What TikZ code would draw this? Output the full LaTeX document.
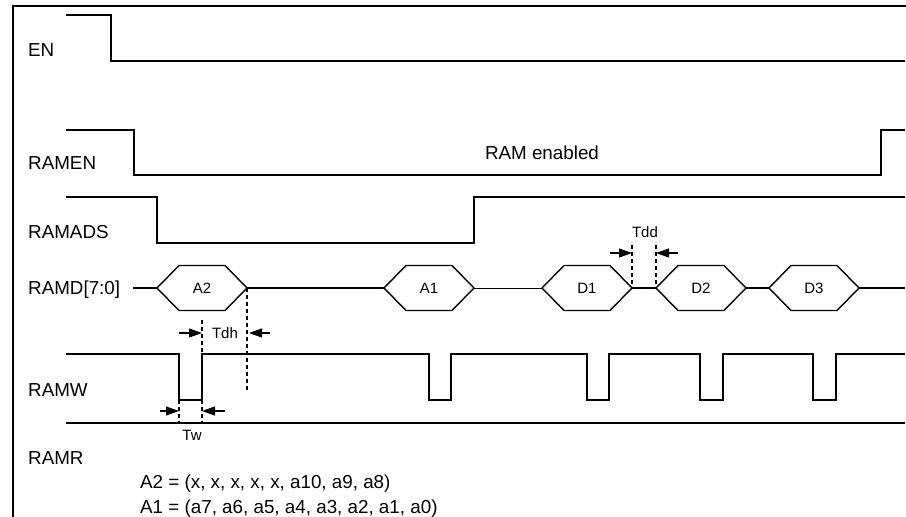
\documentclass[tikz,border=0pt]{standalone}
\usepackage{fontspec}
\setmainfont{Liberation Sans}
\usetikzlibrary{arrows.meta,positioning}
\tikzset{
  sig/.style={line width=1.4pt},
  frame/.style={line width=2.6pt},
  tick/.style={line width=1.2pt, dash pattern=on 4pt off 3pt},
  sname/.style={anchor=base west, inner sep=0pt, font=\fontsize{18.8}{22}\selectfont},
  small/.style={inner sep=0pt, font=\fontsize{15}{18}\selectfont},
  dim/.style={-{Triangle[length=13pt,width=9pt]}, line width=1.1pt},
}
% bus value: name, left point x, label
\newcommand{\busval}[3]{%
  \coordinate (#1l) at (#2,288);
  \coordinate (#1r) at (#2+90,288);
  \draw[sig] (#1l) -- ++(22,-22.5) -- ++(46,0) -- (#1r) -- ++(-22,22.5) -- ++(-46,0) -- cycle;
  \node[small] (#1) at (#2+45,288) {#3};
}

\begin{document}
\begin{tikzpicture}[x=1pt, y=-1pt]
    \useasboundingbox (0,0) rectangle (906,517);
    \draw[frame] (13,530) -- (13,6) -- (920,6);

    % signal names
    \node[sname] (en) at (28,56.7) {EN};
    \node[sname] (ramen) at (28,169.7) {RAMEN};
    \node[sname] (ramads) at (28,238.7) {RAMADS};
    \node[sname] (ramd) at (28,294.7) {RAMD[7:0]};
    \node[sname] (ramw) at (28,396.7) {RAMW};
    \node[sname] (ramr) at (28,464.7) {RAMR};

    % waveforms
    \draw[sig] (66,15) -- (111,15) -- (111,61) -- (905,61);
    \draw[sig] (66,130) -- (134,130) -- (134,175) -- (881,175) -- (881,130) -- (905,130);
    \node[sname, anchor=center] (ramon) at (542,153) {RAM enabled};
    \draw[sig] (66,197) -- (157,197) -- (157,243) -- (474,243) -- (474,197) -- (905,197);

    \busval{A2}{157}{A2}
    \busval{A1}{384}{A1}
    \busval{D1}{542}{D1}
    \busval{D2}{656}{D2}
    \busval{D3}{769}{D3}
    \coordinate (dstart) at (133,288);
    \coordinate (dend) at (905,288);
    \draw[sig] (dstart) -- (A2l);
    \draw[sig] (A2r) -- (A1l);
    \draw[line width=1pt] (A1r) -- (D1l);
    \draw[sig] (D1r) -- (D2l);
    \draw[sig] (D2r) -- (D3l);
    \draw[sig] (D3r) -- (dend);

    \draw[sig] (66,354) -- (179,354) -- (179,400) -- (202,400) -- (202,354) -- (429,354)
      -- (429,400) -- (451,400) -- (451,354) -- (587,354) -- (587,400) -- (609,400) -- (609,354)
      -- (700,354) -- (700,400) -- (723,400) -- (723,354) -- (813,354) -- (813,400) -- (836,400)
      -- (836,354) -- (905,354);
    \draw[sig] (66,423) -- (905,423);

    % timing marks
    \coordinate (hold) at (247,390);
    \draw[tick] (A2r) -- (hold);
    \draw[tick] (202,320) -- (202,354);
    \draw[tick] (179,400) -- (179,423);
    \draw[tick] (202,400) -- (202,423);
    \draw[dim] (179,333) -- (202,333);
    \draw[dim] (270,333) -- (249,333);
    \node[small] (tdh) at (225,333) {Tdh};
    \draw[dim] (160,411) -- (179,411);
    \draw[dim] (225,411) -- (202,411);
    \node[small] (tw) at (192,435) {Tw};
    \coordinate (dd1) at (632,245);
    \coordinate (dd2) at (656,245);
    \draw[tick] (dd1) -- (D1r);
    \draw[tick] (dd2) -- (D2l);
    \draw[dim] (610,253) -- (632,253);
    \draw[dim] (678,253) -- (656,253);
    \node[small] (tdd) at (645,232) {Tdd};

    % address bytes
    \node[sname] (a2def) at (140,488.7) {A2 = (x, x, x, x, x, a10, a9, a8)};
    \node[sname] (a1def) at (140,513.7) {A1 = (a7, a6, a5, a4, a3, a2, a1, a0)};
\end{tikzpicture}
\end{document}
